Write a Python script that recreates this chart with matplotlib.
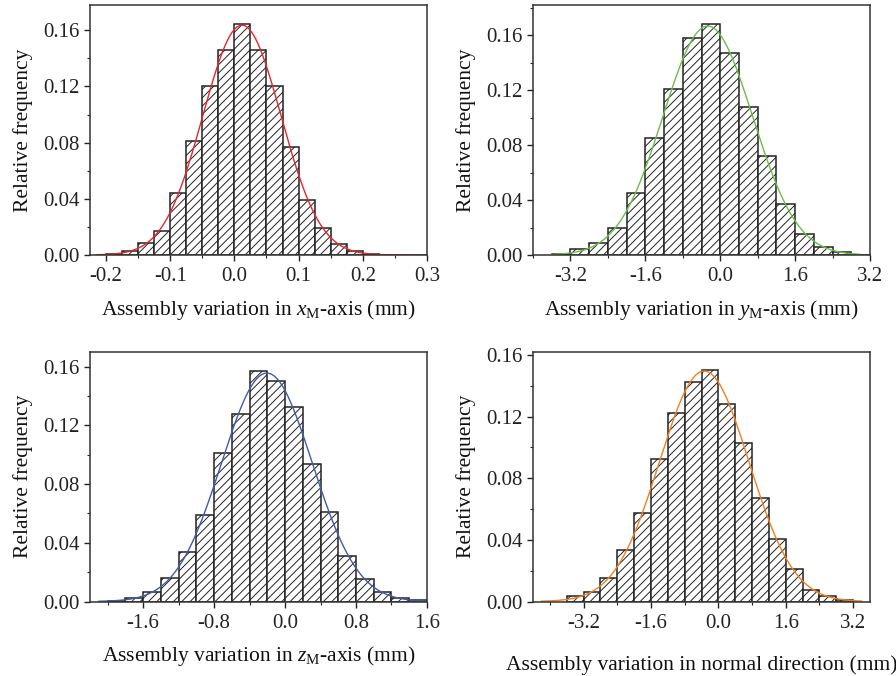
import numpy as np
import matplotlib.pyplot as plt
from matplotlib.ticker import MultipleLocator, FormatStrFormatter

plt.rcParams['font.family'] = ['Liberation Serif', 'DejaVu Serif']
plt.rcParams['mathtext.fontset'] = 'custom'
plt.rcParams['mathtext.rm'] = 'Liberation Serif'
plt.rcParams['mathtext.it'] = 'Liberation Serif:italic'
plt.rcParams['axes.unicode_minus'] = False
plt.rcParams['hatch.linewidth'] = 0.7

# x_M-axis: bins start at -0.2, width 0.025
x_start, x_width = -0.2, 0.025
x_freq = [0.001, 0.0028, 0.0088, 0.0173, 0.044, 0.081, 0.1206, 0.146, 0.1643, 0.146,
          0.1206, 0.0766, 0.039, 0.0194, 0.0076, 0.0028, 0.0005, 0.0002, 0.0001, 0.0001]

# y_M-axis: bins start at -3.6, width 0.4
y_start, y_width = -3.6, 0.4
y_freq = [0.0005, 0.0044, 0.0085, 0.020, 0.0454, 0.0855, 0.121, 0.158, 0.168, 0.147,
          0.1075, 0.0723, 0.0369, 0.0153, 0.0058, 0.0024, 0.0003]

# z_M-axis: bins start at -2.0, width 0.2
z_start, z_width = -2.0, 0.2
z_freq = [0.0003, 0.0027, 0.0066, 0.0163, 0.0338, 0.0587, 0.1011, 0.1278, 0.1573, 0.1503,
          0.1326, 0.094, 0.061, 0.0308, 0.0154, 0.0063, 0.0025, 0.0009]

# normal direction: bins start at -3.6, width 0.4
n_start, n_width = -3.6, 0.4
n_freq = [0.0035, 0.0059, 0.0154, 0.0335, 0.0572, 0.0926, 0.1224, 0.1426, 0.1504, 0.1285,
          0.1028, 0.067, 0.0404, 0.0213, 0.0076, 0.0037, 0.0011]

panels = [
    dict(start=x_start, width=x_width, freq=x_freq, color='#e8262a',
         pos=[0.1004, 0.6228, 0.3761, 0.3698], xlim=(-0.225, 0.3), ylim=(0, 0.178),
         major=0.1, minor=0.05, curve=(-0.215, 0.29),
         xlabel=r'Assembly variation in $x_{\mathrm{M}}$-axis (mm)', pad=8),
    dict(start=y_start, width=y_width, freq=y_freq, color='#6abf4b',
         pos=[0.5949, 0.6228, 0.3761, 0.3698], xlim=(-4.0, 3.2), ylim=(0, 0.182),
         major=1.6, minor=0.8, curve=(-3.6, 3.0),
         xlabel=r'Assembly variation in $y_{\mathrm{M}}$-axis (mm)', pad=8),
    dict(start=z_start, width=z_width, freq=z_freq, color='#3f5ca8',
         pos=[0.1004, 0.1102, 0.3761, 0.3691], xlim=(-2.2, 1.6), ylim=(0, 0.17),
         major=0.8, minor=0.4, curve=(-2.1, 1.6),
         xlabel=r'Assembly variation in $z_{\mathrm{M}}$-axis (mm)', pad=8),
    dict(start=n_start, width=n_width, freq=n_freq, color='#f47f20',
         pos=[0.5949, 0.1102, 0.3761, 0.3691], xlim=(-4.4, 3.6), ylim=(0, 0.162),
         major=1.6, minor=0.8, curve=(-4.2, 3.4),
         xlabel='Assembly variation in normal direction (mm)', pad=16),
]

fig = plt.figure(figsize=(8.96, 6.76), dpi=100)

for p in panels:
    ax = fig.add_axes(p['pos'])
    freq = np.array(p['freq'])
    left = p['start'] + p['width'] * np.arange(len(freq))
    ax.bar(left, freq, width=p['width'], align='edge', facecolor='white',
           edgecolor='#222222', linewidth=1.1, hatch='////')

    # normal fit from the binned data
    centers = left + p['width'] / 2
    total = freq.sum()
    mu = (centers * freq).sum() / total
    sd = np.sqrt((freq * (centers - mu) ** 2).sum() / total)
    xs = np.linspace(p['curve'][0], p['curve'][1], 300)
    ys = total * p['width'] / (sd * np.sqrt(2 * np.pi)) * np.exp(-0.5 * ((xs - mu) / sd) ** 2)
    ax.plot(xs, ys, color=p['color'], linewidth=1.0)

    ax.set_xlim(*p['xlim'])
    ax.set_ylim(*p['ylim'])
    ax.xaxis.set_major_locator(MultipleLocator(p['major']))
    ax.xaxis.set_minor_locator(MultipleLocator(p['minor']))
    ax.yaxis.set_major_locator(MultipleLocator(0.04))
    ax.yaxis.set_minor_locator(MultipleLocator(0.02))
    ax.xaxis.set_major_formatter(FormatStrFormatter('%.1f'))
    ax.yaxis.set_major_formatter(FormatStrFormatter('%.2f'))
    ax.tick_params(which='major', direction='out', length=4, width=1, labelsize=15, colors='#222222')
    ax.tick_params(which='minor', direction='out', length=2.5, width=0.8, colors='#222222')
    ax.tick_params(axis='x', pad=5)
    for s in ax.spines.values():
        s.set_color('#333333')
        s.set_linewidth(1.1)
    ax.set_xlabel(p['xlabel'], fontsize=15.5, labelpad=p['pad'], color='#111111')
    ax.set_ylabel('Relative frequency', fontsize=15.5, labelpad=7, color='#111111')

fig.savefig('out.png', dpi=100)
